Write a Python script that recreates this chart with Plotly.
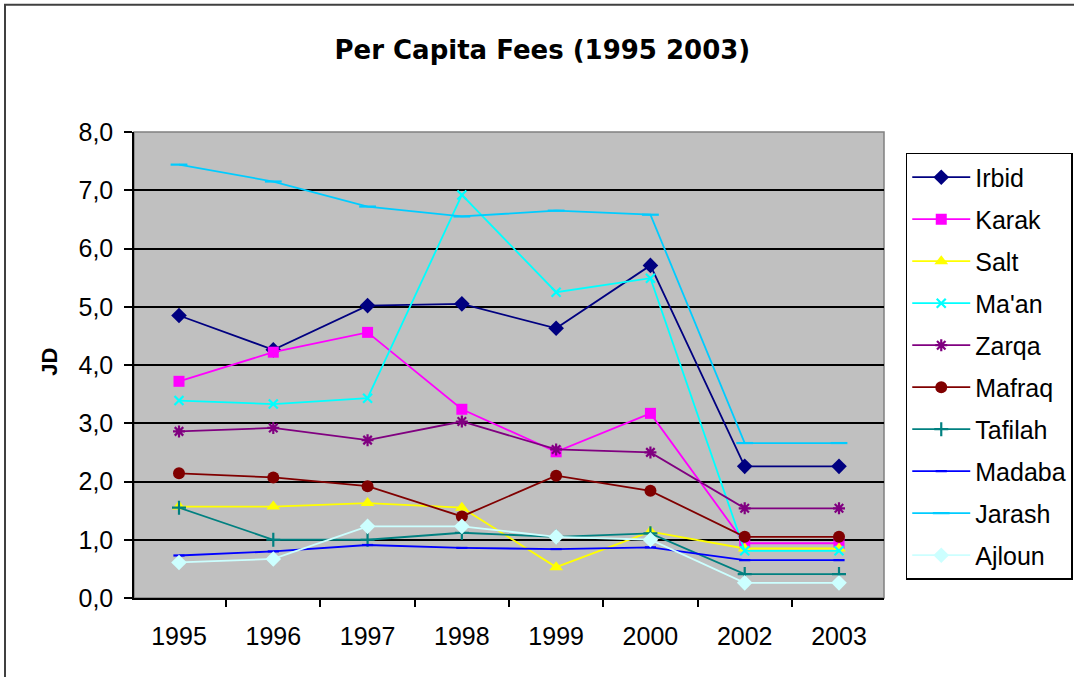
import plotly.graph_objects as go

years = ["1995", "1996", "1997", "1998", "1999", "2000", "2002", "2003"]

irbid   = [4.85, 4.26, 5.02, 5.05, 4.63, 5.71, 2.26, 2.26]
karak   = [3.72, 4.22, 4.56, 3.24, 2.51, 3.17, 0.94, 0.94]
salt    = [1.57, 1.57, 1.63, 1.55, 0.53, 1.14, 0.85, 0.85]
maan    = [3.39, 3.33, 3.43, 6.92, 5.25, 5.49, 0.81, 0.81]
zarqa   = [2.86, 2.92, 2.71, 3.03, 2.55, 2.50, 1.54, 1.54]
mafraq  = [2.14, 2.07, 1.92, 1.40, 2.10, 1.84, 1.05, 1.05]
tafilah = [1.55, 1.00, 1.00, 1.12, 1.05, 1.11, 0.41, 0.41]
madaba  = [0.73, 0.80, 0.91, 0.86, 0.84, 0.87, 0.65, 0.65]
jarash  = [7.44, 7.15, 6.72, 6.55, 6.65, 6.58, 2.66, 2.66]
ajloun  = [0.61, 0.67, 1.23, 1.23, 1.05, 1.00, 0.26, 0.26]

series = [
    ("Irbid", irbid, "#000080", "diamond", 12),
    ("Karak", karak, "#FF00FF", "square", 11),
    ("Salt", salt, "#FFFF00", "triangle-up", 12),
    ("Ma'an", maan, "#00FFFF", "x-thin", 9),
    ("Zarqa", zarqa, "#800080", "asterisk", 10),
    ("Mafraq", mafraq, "#800000", "circle", 12),
    ("Tafilah", tafilah, "#008080", "cross-thin", 10),
    ("Madaba", madaba, "#0000FF", "line-ew", 8),
    ("Jarash", jarash, "#00CCFF", "line-ew", 12),
    ("Ajloun", ajloun, "#CCFFFF", "diamond", 12),
]

FONT = "Arial, Liberation Sans, sans-serif"

fig = go.Figure()
for name, vals, color, sym, size in series:
    open_sym = sym in ("x-thin", "asterisk", "cross-thin", "line-ew")
    fig.add_trace(go.Scatter(
        x=years, y=vals, name=name, mode="lines+markers",
        legendgroup=name,
        line=dict(color=color, width=1.8),
        marker=dict(symbol=sym, size=size, color=color,
                    line=dict(color=color, width=2.2 if open_sym else 0)),
    ))

fig.update_layout(
    width=1074, height=677,
    paper_bgcolor="white", plot_bgcolor="#C0C0C0",
    separators=",.",
    margin=dict(l=134, r=190, t=132, b=79, autoexpand=False),
    font=dict(family=FONT, size=25, color="black"),
    title=dict(text="<b>Per Capita Fees (1995 2003)</b>", x=0.505, xanchor="center",
               y=0.927, yanchor="middle",
               font=dict(family="DejaVu Sans, sans-serif", size=26, color="black")),
    showlegend=True,
    legend=dict(x=1.029, xanchor="left", y=0.955, yanchor="top",
                bgcolor="white", bordercolor="black", borderwidth=1.5,
                font=dict(family=FONT, size=25, color="black"),
                itemwidth=58,
                traceorder="grouped", tracegroupgap=6.5),
    xaxis=dict(type="category", showgrid=False, showline=True, linecolor="black", linewidth=1.5,
               ticks="outside", tickson="boundaries", ticklen=7, tickcolor="black", tickwidth=1.5,
               ticklabelstandoff=15,
               tickfont=dict(family=FONT, size=25, color="black")),
    yaxis=dict(range=[0, 8], dtick=1, tickformat=".1f", showgrid=True, gridcolor="black", gridwidth=1.5,
               showline=True, linecolor="black", linewidth=1.5, zeroline=False,
               ticks="outside", ticklen=8, tickcolor="black", tickwidth=1.5,
               ticklabelstandoff=6,
               tickfont=dict(family=FONT, size=25, color="black")),
)

# plot-area frame (grey top/right edges)
fig.add_shape(type="rect", xref="paper", yref="paper", x0=0, y0=0, x1=1, y1=1,
              line=dict(color="#808080", width=1.5), layer="below")
# outer chart border
fig.add_shape(type="rect", xref="paper", yref="paper", x0=-0.172, y0=-0.2, x1=1.3, y1=1.273,
              line=dict(color="#404040", width=2))

fig.add_annotation(text="<b>JD</b>", xref="paper", yref="paper", x=-0.132, y=0.506,
                   textangle=-90, showarrow=False, font=dict(family=FONT, size=22, color="black"))

fig.write_html("out.html", config={"displayModeBar": False},
               post_script="document.body.style.margin='0px';")
